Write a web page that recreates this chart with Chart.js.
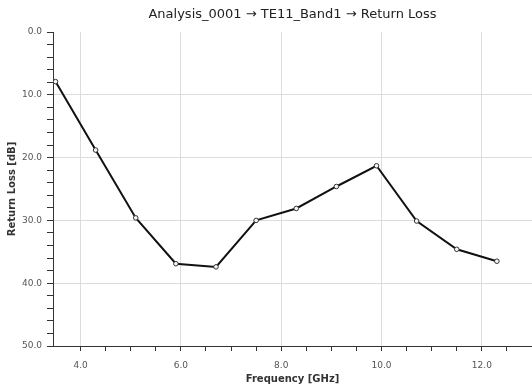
<!DOCTYPE html>
<html>
<head>
<meta charset="utf-8">
<script src="https://cdn.jsdelivr.net/npm/chart.js@4"></script>
<style>
  html, body { margin: 0; padding: 0; background: #fff; }
  #wrap { width: 532px; height: 390px; }
</style>
</head>
<body>
<div id="wrap"><canvas id="rlChart" width="532" height="390"></canvas></div>
<script>
// frequency points [GHz] and return loss [dB]
const freqs = [3.5, 4.3, 5.1, 5.9, 6.7, 7.5, 8.3, 9.1, 9.9, 10.7, 11.5, 12.3];
const returnLoss = [7.9, 18.8, 29.6, 36.9, 37.4, 30.0, 28.1, 24.6, 21.3, 30.1, 34.6, 36.5];

const titleText = "Analysis_0001 \u2192 TE11_Band1 \u2192 Return Loss";
const xTitle = "Frequency [GHz]";
const yTitle = "Return Loss [dB]";

function isMultiple(v, step) {
    return Math.abs(v / step - Math.round(v / step)) < 1e-6;
}

const points = freqs.map((f, i) => ({ x: f, y: returnLoss[i] }));

new Chart(document.getElementById("rlChart"), {
    type: "line",
    data: {
        datasets: [{
            label: "Return Loss",
            data: points,
            borderColor: "#111",
            borderWidth: 2,
            tension: 0,
            pointRadius: 2.3,
            pointBorderWidth: 1,
            pointBorderColor: "#333",
            pointBackgroundColor: "#f4f4f4"
        }]
    },
    options: {
        responsive: false,
        animation: false,
        layout: { padding: 0, autoPadding: false },
        plugins: {
            legend: { display: false },
            tooltip: { enabled: false },
            title: {
                display: true,
                text: titleText,
                fullSize: false,
                color: "#222",
                font: { family: "DejaVu Sans", size: 13, weight: "normal" },
                padding: { top: 7, bottom: 9.4 }
            }
        },
        scales: {
            x: {
                type: "linear",
                min: 3.45,
                max: 13.0,
                afterFit: (s) => { s.height = 44; s.paddingRight = 0; s.paddingLeft = 0; },
                border: { color: "#333", width: 1 },
                grid: {
                    color: (c) => (c.tick && isMultiple(c.tick.value, 2)) ? "#dcdcdc" : "rgba(0,0,0,0)",
                    tickColor: (c) => (c.tick && isMultiple(c.tick.value, 0.5)) ? "#333" : "rgba(0,0,0,0)",
                    tickLength: 5,
                    lineWidth: 1
                },
                ticks: {
                    stepSize: 0.5,
                    autoSkip: false,
                    maxRotation: 0,
                    padding: 9,
                    color: "#555",
                    font: { family: "DejaVu Sans", size: 9 },
                    callback: (v) => isMultiple(v, 2) ? Number(v).toFixed(1) : ""
                },
                title: {
                    display: true,
                    text: xTitle,
                    color: "#333",
                    font: { family: "DejaVu Sans", size: 10, weight: "bold" },
                    padding: { top: 0, bottom: 5 }
                }
            },
            y: {
                type: "linear",
                reverse: true,
                min: 0,
                max: 50,
                afterFit: (s) => { s.width = 53; s.paddingTop = 0; s.paddingBottom = 0; },
                border: { color: "#333", width: 1 },
                grid: {
                    color: (c) => (c.tick && isMultiple(c.tick.value, 10) && c.tick.value > 0 && c.tick.value < 50) ? "#dcdcdc" : "rgba(0,0,0,0)",
                    tickColor: "#333",
                    tickLength: 6,
                    lineWidth: 1
                },
                ticks: {
                    stepSize: 2,
                    autoSkip: false,
                    padding: 5,
                    color: "#555",
                    font: { family: "DejaVu Sans", size: 9 },
                    callback: (v) => isMultiple(v, 10) ? Number(v).toFixed(1) : ""
                },
                title: {
                    display: true,
                    text: yTitle,
                    color: "#333",
                    font: { family: "DejaVu Sans", size: 10, weight: "bold" },
                    padding: { top: 6, bottom: 0 }
                }
            }
        }
    }
});
</script>
</body>
</html>
